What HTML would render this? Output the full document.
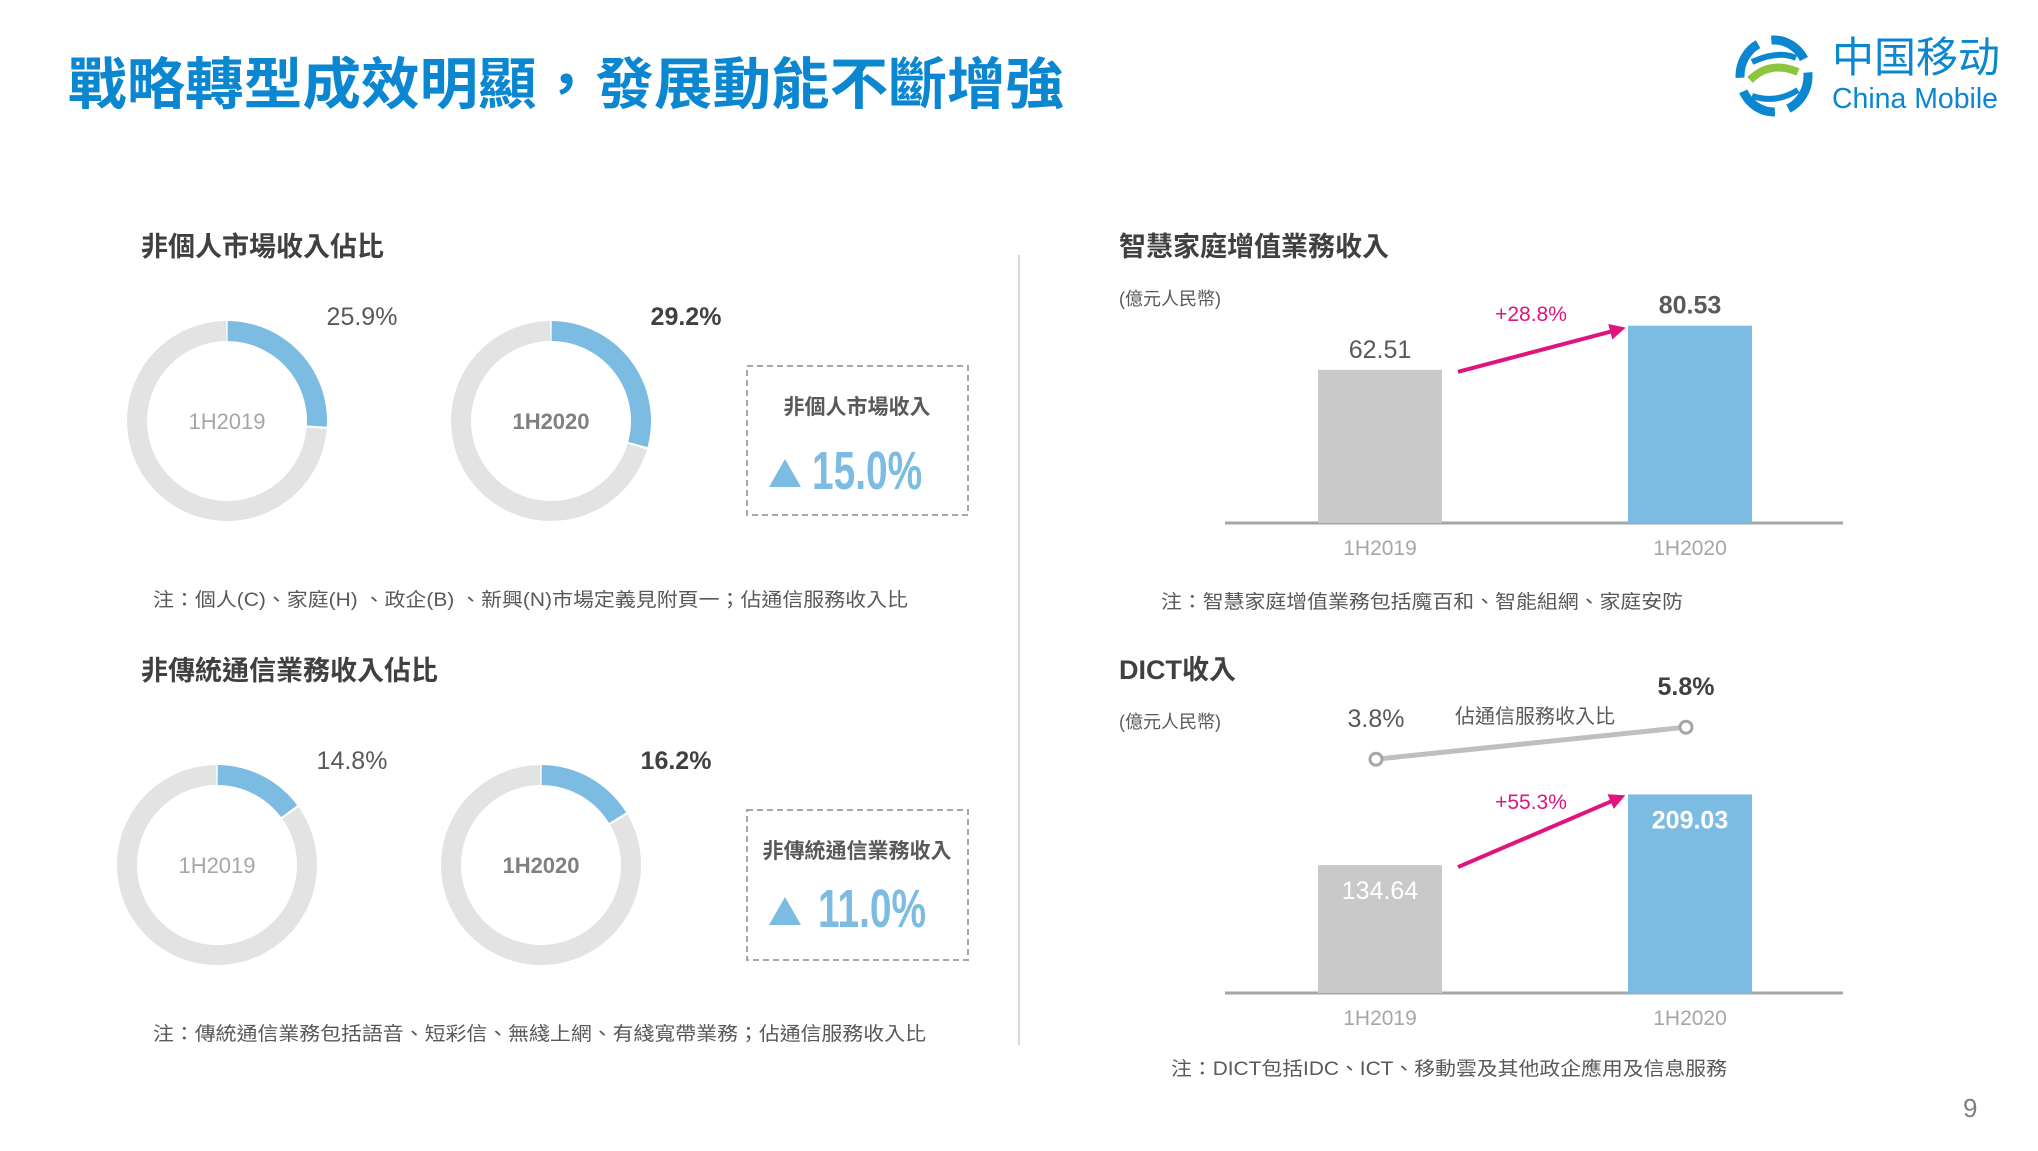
<!DOCTYPE html>
<html><head><meta charset="utf-8">
<style>
html,body{margin:0;padding:0;background:#fff;}
body{width:2038px;height:1146px;overflow:hidden;font-family:"Liberation Sans","Noto Sans CJK TC",sans-serif;}
svg text{font-family:"Liberation Sans","Noto Sans CJK TC",sans-serif;}
.cond{font-family:"Liberation Sans Narrow","Liberation Sans","Noto Sans CJK TC",sans-serif;}
</style></head>
<body>
<svg id="page" width="2038" height="1146" viewBox="0 0 2038 1146" xmlns="http://www.w3.org/2000/svg">
  <text x="68" y="104" font-size="56" font-weight="bold" fill="#0a87d0" textLength="996" lengthAdjust="spacingAndGlyphs">戰略轉型成效明顯，發展動能不斷增強</text>
  <g>
    <ellipse cx="1774" cy="76" rx="34" ry="36" fill="none" stroke="#0a87d0" stroke-width="9" stroke-dasharray="40 14"/>
    <path d="M1750 80 Q1770 60 1798 72" fill="none" stroke="#8cc63f" stroke-width="8"/>
    <path d="M1752 62 Q1778 50 1796 58 M1752 96 Q1776 104 1798 90" fill="none" stroke="#0a87d0" stroke-width="6"/>
    <text x="1832" y="72" font-size="42" fill="#0a87d0">中国移动</text>
    <text x="1832" y="108" font-size="29" fill="#0a87d0" textLength="166" lengthAdjust="spacingAndGlyphs">China Mobile</text>
  </g>
  <line x1="1019" y1="255" x2="1019" y2="1045" stroke="#d9d9d9" stroke-width="2"/>

  <text x="141" y="256" font-size="27" font-weight="bold" fill="#404040">非個人市場收入佔比</text>
  <text x="141" y="680" font-size="27" font-weight="bold" fill="#404040">非傳統通信業務收入佔比</text>
  <g id="donuts"></g>
  <g>
    <rect x="747" y="366" width="221" height="149" fill="none" stroke="#a6a6a6" stroke-width="2" stroke-dasharray="6 4"/>
    <text x="857" y="414" font-size="21" font-weight="bold" fill="#595959" text-anchor="middle">非個人市場收入</text>
    <polygon points="769,487 801,487 785,459" fill="#7cbce3"/>
    <text transform="translate(812,489) scale(0.72,1)" font-size="54" font-weight="bold" fill="#7cbce3">15.0%</text>
  </g>
  <g>
    <rect x="747" y="810" width="221" height="150" fill="none" stroke="#a6a6a6" stroke-width="2" stroke-dasharray="6 4"/>
    <text x="857" y="858" font-size="21" font-weight="bold" fill="#595959" text-anchor="middle">非傳統通信業務收入</text>
    <polygon points="769,925 801,925 785,897" fill="#7cbce3"/>
    <text transform="translate(818,927) scale(0.72,1)" font-size="54" font-weight="bold" fill="#7cbce3">11.0%</text>
  </g>
  <text x="153" y="606" font-size="19" fill="#595959" textLength="755" lengthAdjust="spacingAndGlyphs">注：個人(C)、家庭(H) 、政企(B) 、新興(N)市場定義見附頁一；佔通信服務收入比</text>
  <text x="153" y="1040" font-size="19" fill="#595959" textLength="773" lengthAdjust="spacingAndGlyphs">注：傳統通信業務包括語音、短彩信、無綫上網、有綫寬帶業務；佔通信服務收入比</text>

  <text x="1119" y="256" font-size="27" font-weight="bold" fill="#404040">智慧家庭增值業務收入</text>
  <text x="1119" y="305" font-size="18" fill="#595959">(億元人民幣)</text>
  <text x="1119" y="679" font-size="27" font-weight="bold" fill="#404040">DICT收入</text>
  <text x="1119" y="728" font-size="18" fill="#595959">(億元人民幣)</text>
  <g id="bars"></g>
  <text x="1161" y="608" font-size="19" fill="#595959" textLength="522" lengthAdjust="spacingAndGlyphs">注：智慧家庭增值業務包括魔百和、智能組網、家庭安防</text>
  <text x="1171" y="1075" font-size="19" fill="#595959" textLength="556" lengthAdjust="spacingAndGlyphs">注：DICT包括IDC、ICT、移動雲及其他政企應用及信息服務</text>
  <text x="1963" y="1117" font-size="26" fill="#7f7f7f">9</text>
</svg>
<script>
const donutPeriods = ['1H2019','1H2020'];
const nonPersonalShare = [25.9, 29.2];
const nonTraditionalShare = [14.8, 16.2];
const homeCategories = ['1H2019','1H2020'];
const homeValues = [62.51, 80.53];
const homeGrowth = '+28.8%';
const dictCategories = ['1H2019','1H2020'];
const dictValues = [134.64, 209.03];
const dictGrowth = '+55.3%';
const dictRatio = [3.8, 5.8];
const dictRatioLabels = ['3.8%','5.8%'];

const NS='http://www.w3.org/2000/svg';
function mk(tag, attrs, parent, text){const e=document.createElementNS(NS,tag);for(const k in attrs)e.setAttribute(k,attrs[k]);if(text!==undefined)e.textContent=text;parent.appendChild(e);return e;}
function arc(cx,cy,R,r,a0,a1){
  const p=(rad,a)=>[cx+rad*Math.sin(a),cy-rad*Math.cos(a)];
  const large=(a1-a0)>Math.PI?1:0;
  const [x0,y0]=p(R,a0),[x1,y1]=p(R,a1),[x2,y2]=p(r,a1),[x3,y3]=p(r,a0);
  return `M${x0},${y0} A${R},${R} 0 ${large} 1 ${x1},${y1} L${x2},${y2} A${r},${r} 0 ${large} 0 ${x3},${y3} Z`;
}
const dg=document.getElementById('donuts');
function drawDonuts(shares, centers, cy, name){
  shares.forEach((v,i)=>{
    const cx=centers[i];
    const a=v/100*2*Math.PI, gap=0.025;
    const g=mk('path',{d:arc(cx,cy,100,80,a+gap,2*Math.PI-gap*0.3),fill:'#e3e3e3'},dg);
    
    
    const b=mk('path',{d:arc(cx,cy,100,80,gap*0.3,a),fill:'#7cbce3'},dg);
    
    
    const c=mk('text',{x:cx,y:cy+8,'font-size':22,fill:i?'#808080':'#a6a6a6','font-weight':i?'bold':'normal','text-anchor':'middle'},dg,donutPeriods[i]);
    
    
    const l=mk('text',{x:cx+135,y:cy-96,'font-size':25,fill:i?'#404040':'#595959','font-weight':i?'bold':'normal','text-anchor':'middle'},dg,v.toFixed(1)+'%');
    
    
  });
}
drawDonuts(nonPersonalShare,[227,551],421,'non-personal-donut');
drawDonuts(nonTraditionalShare,[217,541],865,'non-traditional-donut');

const bg=document.getElementById('bars');
const barX=i=>1380+i*310, barW=124;
function drawBars(values, cats, base, k, growth, inside, name, gy){
  const y=v=>base-v*k;
  const ax=mk('line',{x1:1225,y1:base,x2:1843,y2:base,stroke:'#a6a6a6','stroke-width':3},bg);
  
  
  values.forEach((v,i)=>{
    const r=mk('rect',{x:barX(i)-barW/2,y:y(v),width:barW,height:base-y(v),fill:i?'#7cbce3':'#c9c9c9'},bg);
    
    
    const t=mk('text',{x:barX(i),y:inside?y(v)+34:y(v)-12,'font-size':25,'text-anchor':'middle',fill:inside?'#fff':'#595959','font-weight':i?'bold':'normal'},bg,v.toFixed(2));
    
    
    const c=mk('text',{x:barX(i),y:base+32,'font-size':21,'text-anchor':'middle',fill:'#a6a6a6'},bg,cats[i]);
    
    
  });
  const x0=barX(0)+barW/2+16, y0=y(values[0])+2, x1=barX(1)-barW/2-10, y1=y(values[1])+4;
  const ln=mk('line',{x1:x0,y1:y0,x2:x1,y2:y1,stroke:'#e0147d','stroke-width':4},bg);
  
  
  const ang=Math.atan2(y1-y0,x1-x0);
  const hx=x1+Math.cos(ang)*8, hy=y1+Math.sin(ang)*8;
  const p=[[hx,hy],[hx-16*Math.cos(ang)+8*Math.sin(ang),hy-16*Math.sin(ang)-8*Math.cos(ang)],[hx-16*Math.cos(ang)-8*Math.sin(ang),hy-16*Math.sin(ang)+8*Math.cos(ang)]];
  const hd=mk('polygon',{points:p.map(q=>q.join(',')).join(' '),fill:'#e0147d'},bg);
  
  
  const gt=mk('text',{x:1531,y:gy,'font-size':21,'text-anchor':'middle',fill:'#e0147d'},bg,growth);
  
  
}
drawBars(homeValues,homeCategories,523,2.45,homeGrowth,false,'smart-home',321);
drawBars(dictValues,dictCategories,993,0.95,dictGrowth,true,'dict',809);

const ry=v=>820-v*16;
const rl=mk('line',{x1:barX(0)-4,y1:ry(dictRatio[0]),x2:barX(1)-4,y2:ry(dictRatio[1]),stroke:'#bfbfbf','stroke-width':5},bg);


dictRatio.forEach((v,i)=>{
  const c=mk('circle',{cx:barX(i)-4,cy:ry(v),r:6,fill:'#fff',stroke:'#a6a6a6','stroke-width':3},bg);
  
  
  const t=mk('text',{x:barX(i)-4,y:ry(v)-32,'font-size':25,'text-anchor':'middle',fill:i?'#404040':'#595959','font-weight':i?'bold':'normal'},bg,dictRatioLabels[i]);
  
  
});
const rt=mk('text',{x:1535,y:723,'font-size':20,'text-anchor':'middle',fill:'#595959'},bg,'佔通信服務收入比');


</script>
</body></html>
